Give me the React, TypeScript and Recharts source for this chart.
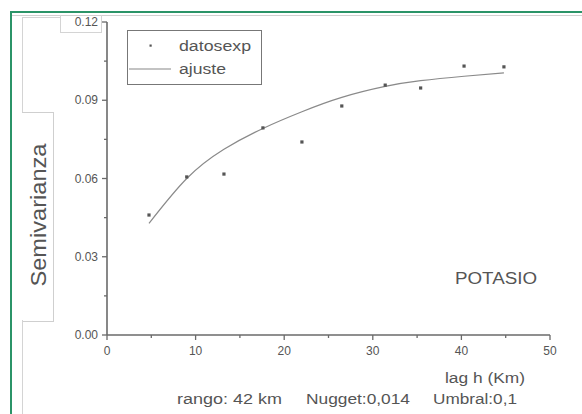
import React from "react";
import {
  ComposedChart,
  XAxis,
  YAxis,
  Scatter,
  Line,
} from "recharts";

// ---- data ----
const expLag = [4.74, 9.0, 13.2, 17.6, 22.0, 26.5, 31.4, 35.4, 40.3, 44.8];
const expGamma = [0.046, 0.0606, 0.0617, 0.0794, 0.074, 0.0878, 0.0958, 0.0947, 0.1031, 0.1028];
const fitLag = [4.74, 9.0, 13.2, 17.6, 22.0, 26.5, 31.4, 35.4, 40.3, 44.8];
const fitGamma = [0.0428, 0.06, 0.0712, 0.0792, 0.0856, 0.0911, 0.0953, 0.0975, 0.0992, 0.1005];

const xMajorTicks = [0, 10, 20, 30, 40, 50];
const xTickLabels = ["0", "10", "20", "30", "40", "50"];
const xMinorTicks = [5, 15, 25, 35, 45];
const yMajorTicks = [0, 0.03, 0.06, 0.09, 0.12];
const yTickLabels = ["0.00", "0.03", "0.06", "0.09", "0.12"];
const yMinorTicks = [0.015, 0.045, 0.075, 0.105];

const seriesNames = ["datosexp", "ajuste"];
const yLabel = "Semivarianza";
const xLabel = "lag h (Km)";
const panelTitle = "POTASIO";
const notes = ["rango: 42 km", "Nugget:0,014", "Umbral:0,1"];

const expData = expLag.map((x, i) => ({ x, y: expGamma[i] }));
const fitData = fitLag.map((x, i) => ({ x, y: fitGamma[i] }));

const FONT = "'Liberation Sans', Arial, sans-serif";
const TXT = "#555555";
const AXIS = "#6a6a6a";

const near = (a: number, b: number) => Math.abs(a - b) < 1e-9;

const XTick = (props: any) => {
  const { x, y, payload } = props;
  const idx = xMajorTicks.findIndex((t) => near(t, payload.value));
  const major = idx >= 0;
  return (
    <g>
      <line x1={x} x2={x} y1={y} y2={y + (major ? 5 : 3)} stroke={AXIS} strokeWidth={1.3} />
      {major && (
        <text x={x} y={y + 20} textAnchor="middle" fontSize={12} fontFamily={FONT} fill={TXT}>
          {xTickLabels[idx]}
        </text>
      )}
    </g>
  );
};

const YTick = (props: any) => {
  const { x, y, payload } = props;
  const idx = yMajorTicks.findIndex((t) => near(t, payload.value));
  const major = idx >= 0;
  return (
    <g>
      <line x1={x - (major ? 5 : 3)} x2={x} y1={y} y2={y} stroke={AXIS} strokeWidth={1.3} />
      {major && (
        <text x={x - 9} y={y + 4} textAnchor="end" fontSize={12} fontFamily={FONT} fill={TXT}>
          {yTickLabels[idx]}
        </text>
      )}
    </g>
  );
};

const SquareDot = (props: any) => {
  const { cx, cy } = props;
  if (cx == null || cy == null) return null;
  return <rect x={cx - 1.6} y={cy - 1.6} width={3.2} height={3.2} fill="#555" />;
};

const LegendBox = () => (
  <svg width={136} height={56} style={{ display: "block" }}>
    <rect x={0.5} y={0.5} width={134} height={54} fill="#fff" stroke="#777" strokeWidth={1} />
    <rect x={22.5} y={14.5} width={2.2} height={2.2} fill="#555" />
    <text x={52} y={21} fontSize={14} fontFamily={FONT} fill={TXT} textLength={72} lengthAdjust="spacingAndGlyphs">
      {seriesNames[0]}
    </text>
    <line x1={2} x2={44} y1={39} y2={39} stroke="#888" strokeWidth={1.2} />
    <text x={52} y={44} fontSize={14} fontFamily={FONT} fill={TXT} textLength={47} lengthAdjust="spacingAndGlyphs">
      {seriesNames[1]}
    </text>
  </svg>
);

const line = (style: React.CSSProperties): React.CSSProperties => ({
  position: "absolute",
  ...style,
});

export default function App() {
  const allX = [...xMajorTicks, ...xMinorTicks].sort((a, b) => a - b);
  const allY = [...yMajorTicks, ...yMinorTicks].sort((a, b) => a - b);
  return (
    <div
      style={{
        position: "absolute",
        left: 0,
        top: 0,
        width: 582,
        height: 414,
        background: "#fff",
        overflow: "hidden",
      }}
    >
      {/* frame decorations */}
      <div style={line({ left: 10, top: 11, width: 600, height: 0, borderTop: "2px solid #2b9468" })} />
      <div style={line({ left: 10, top: 11, width: 0, height: 420, borderLeft: "2px solid #2b9468" })} />
      <div style={line({ left: 12, top: 15, width: 600, height: 0, borderTop: "1px solid #d0d0d0" })} />
      <div style={line({ left: 22, top: 17, width: 38, height: 95, borderLeft: "1px solid #d4d4d4", borderTop: "1px solid #d4d4d4" })} />
      <div style={line({ left: 60, top: 15, width: 40, height: 17, borderLeft: "1px solid #d4d4d4", borderBottom: "1px solid #d4d4d4", borderRight: "1px solid #d4d4d4" })} />
      <div style={line({ left: 22, top: 112, width: 31, height: 208, borderTop: "1px solid #cfcfcf", borderRight: "1px solid #cfcfcf", borderBottom: "1px solid #cfcfcf" })} />
      <div style={line({ left: 22, top: 320, width: 0, height: 100, borderLeft: "1px solid #d4d4d4" })} />

      <div style={{ position: "absolute", left: 0, top: 0 }}>
        <ComposedChart
          width={582}
          height={414}
          margin={{ top: 22, right: 32, bottom: 49, left: 47 }}
        >
          <XAxis
            dataKey="x"
            type="number"
            domain={[0, 50]}
            ticks={allX}
            interval={0}
            tick={<XTick />}
            tickLine={false}
            tickSize={0}
            tickMargin={0}
            height={30}
            axisLine={{ stroke: AXIS, strokeWidth: 1.6 }}
            allowDataOverflow
          />
          <YAxis
            dataKey="y"
            type="number"
            domain={[0, 0.12]}
            ticks={allY}
            interval={0}
            tick={<YTick />}
            tickLine={false}
            tickSize={0}
            tickMargin={0}
            width={60}
            axisLine={{ stroke: AXIS, strokeWidth: 1.6 }}
            allowDataOverflow
          />
          <Line
            data={fitData}
            dataKey="y"
            type="natural"
            stroke="#8a8a8a"
            strokeWidth={1.2}
            dot={false}
            activeDot={false}
            isAnimationActive={false}
            legendType="none"
          />
          <Scatter
            data={expData}
            dataKey="y"
            shape={<SquareDot />}
            isAnimationActive={false}
            legendType="none"
          />
        </ComposedChart>
      </div>

      {/* legend */}
      <div style={{ position: "absolute", left: 127, top: 30 }}>
        <LegendBox />
      </div>

      {/* text overlay */}
      <svg
        width={582}
        height={414}
        style={{ position: "absolute", left: 0, top: 0, pointerEvents: "none" }}
      >
        <text
          transform="translate(46,215) rotate(-90)"
          textAnchor="middle"
          fontSize={22}
          fontFamily={FONT}
          fill={TXT}
          textLength={143}
          lengthAdjust="spacingAndGlyphs"
        >
          {yLabel}
        </text>
        <text x={455} y={284} fontSize={16} fontFamily={FONT} fill={TXT} textLength={82} lengthAdjust="spacingAndGlyphs">
          {panelTitle}
        </text>
        <text x={445} y={383} fontSize={14} fontFamily={FONT} fill={TXT} textLength={80} lengthAdjust="spacingAndGlyphs">
          {xLabel}
        </text>
        <text x={177} y={404} fontSize={14} fontFamily={FONT} fill={TXT} textLength={105} lengthAdjust="spacingAndGlyphs">
          {notes[0]}
        </text>
        <text x={306} y={404} fontSize={14} fontFamily={FONT} fill={TXT} textLength={104} lengthAdjust="spacingAndGlyphs">
          {notes[1]}
        </text>
        <text x={433} y={404} fontSize={14} fontFamily={FONT} fill={TXT} textLength={84} lengthAdjust="spacingAndGlyphs">
          {notes[2]}
        </text>
      </svg>
    </div>
  );
}
